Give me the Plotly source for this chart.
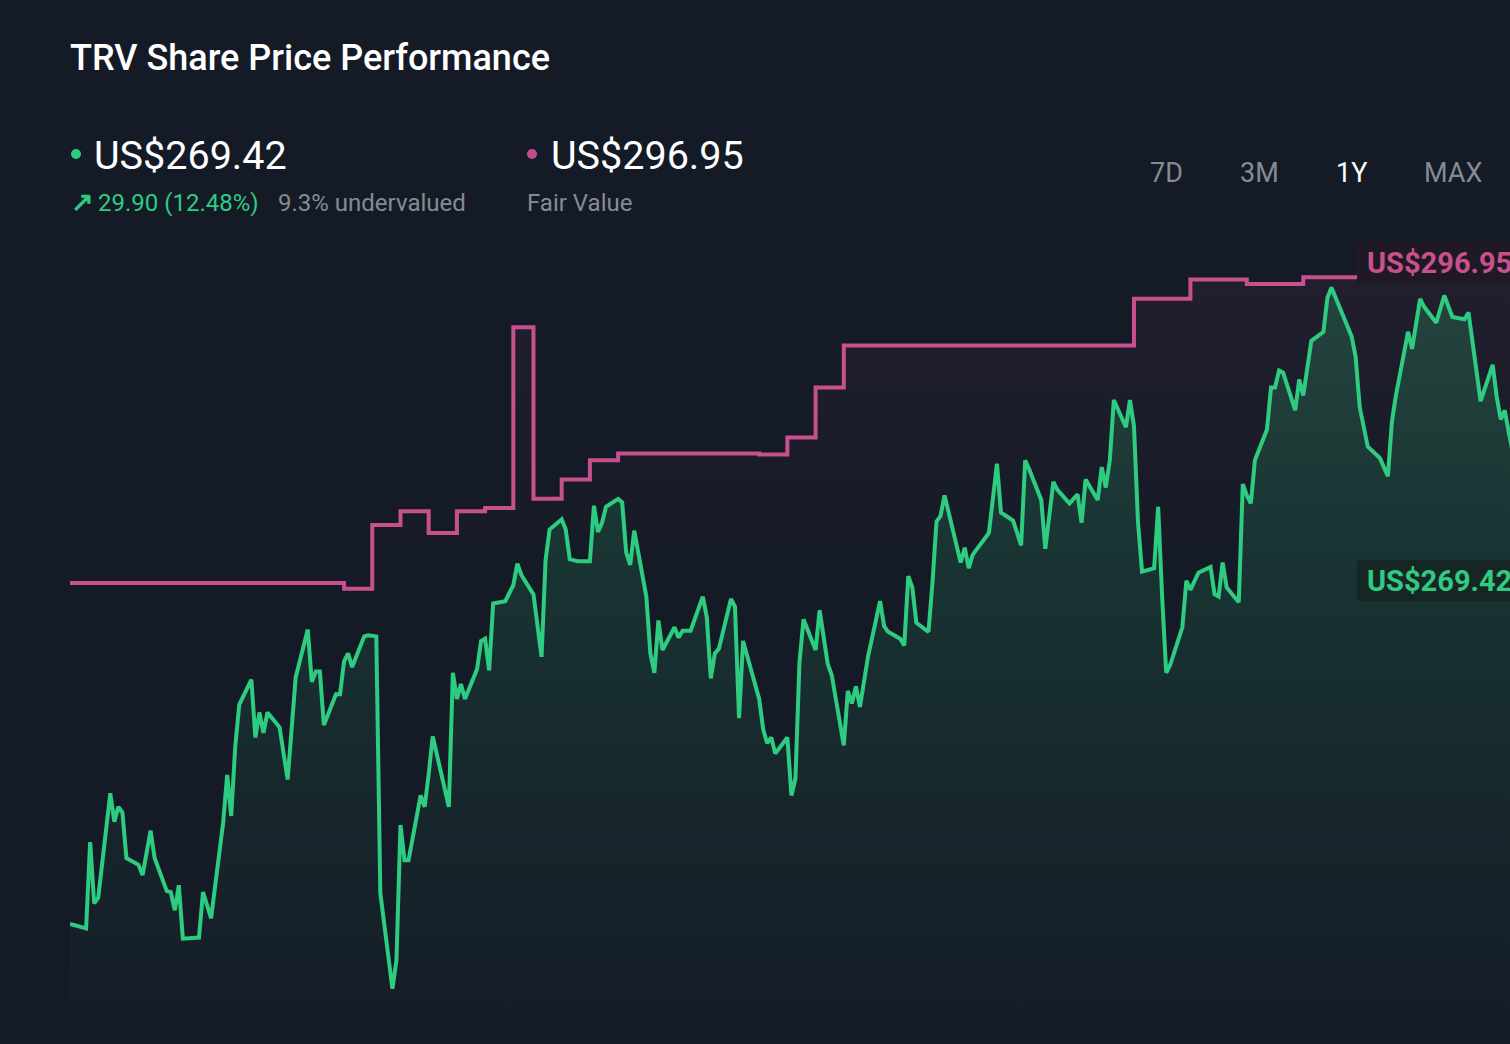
import plotly.graph_objects as go
import pandas as pd

# TRV price history, 1Y view (calendar day offset from the first point, price in US$)
price_days = [
    0, 4, 5, 6, 7, 10, 11, 12, 13, 14, 17, 18, 20, 21, 24, 25, 26, 27, 28, 32,
    33, 35, 38, 39, 40, 41, 42, 45, 46, 47, 48, 49, 52, 54, 56, 59, 60, 61, 62, 63,
    66, 67, 68, 69, 70, 73, 74, 76, 77, 80, 81, 82, 83, 84, 87, 88, 89, 90, 94, 95,
    96, 97, 98, 101, 102, 103, 104, 105, 108, 110, 111, 112, 115, 117, 118, 119, 122, 123, 124, 126,
    129, 130, 131, 132, 133, 136, 137, 138, 139, 140, 143, 144, 145, 146, 147, 150, 151, 152, 154, 157,
    158, 159, 160, 161, 164, 165, 166, 167, 171, 172, 173, 174, 175, 178, 179, 180, 181, 182, 185, 186,
    188, 189, 192, 193, 194, 195, 196, 198, 201, 202, 203, 206, 207, 208, 209, 210, 213, 214, 215, 216,
    217, 221, 222, 223, 224, 228, 230, 231, 234, 236, 237, 238, 241, 242, 244, 245, 248, 250, 251, 252,
    255, 256, 257, 258, 259, 262, 263, 264, 265, 266, 269, 270, 271, 272, 273, 276, 277, 278, 280, 283,
    284, 285, 286, 287, 290, 291, 292, 293, 294, 297, 298, 299, 300, 301, 304, 305, 306, 307, 308, 311,
    312, 313, 318, 319, 320, 322, 325, 327, 328, 329, 332, 333, 335, 336, 339, 341, 343, 346, 347, 350,
    353, 354, 355, 356, 357, 365,
]
share_price = [
    239.6, 239.2, 246.8, 241.4, 241.9, 251.1, 248.6, 249.9, 249.4, 245.4, 244.8, 243.9, 247.8, 245.4, 242.5, 242.4, 240.8, 243.0, 238.3, 238.4,
    242.4, 240.1, 248.5, 252.7, 249.1, 255.2, 258.9, 261.1, 256.0, 258.2, 256.4, 258.2, 256.9, 252.3, 261.3, 265.5, 260.9, 261.8, 261.8, 257.1,
    259.8, 259.8, 262.7, 263.4, 262.2, 264.9, 265.0, 264.9, 242.3, 233.9, 236.4, 248.3, 245.2, 245.2, 250.9, 249.9, 252.8, 256.1, 249.9, 261.7,
    259.4, 260.7, 259.4, 262.0, 264.5, 264.7, 261.9, 267.8, 268.0, 269.4, 271.3, 270.3, 268.6, 263.1, 271.6, 274.3, 275.2, 274.3, 271.7, 271.5,
    271.5, 276.4, 274.1, 274.9, 276.3, 277.0, 276.7, 272.3, 271.2, 274.2, 268.4, 263.4, 261.7, 266.3, 263.7, 265.7, 264.8, 265.4, 265.4, 268.4,
    266.6, 261.2, 263.4, 263.8, 268.2, 267.5, 257.7, 264.5, 259.4, 256.7, 255.5, 256.0, 254.6, 256.0, 250.9, 252.4, 262.6, 266.4, 263.7, 267.2,
    262.5, 261.5, 255.3, 260.1, 259.0, 260.5, 258.7, 263.1, 268.0, 265.8, 265.3, 264.7, 264.1, 270.2, 269.2, 266.1, 265.3, 269.6, 275.0, 275.5,
    277.3, 271.4, 272.7, 270.9, 272.1, 274.0, 280.1, 275.8, 275.1, 272.9, 280.4, 279.6, 276.9, 272.6, 278.5, 277.8, 276.6, 277.4, 274.9, 278.7,
    276.9, 279.8, 278.0, 280.4, 285.7, 283.3, 285.7, 283.4, 274.9, 270.6, 270.9, 276.3, 268.3, 261.7, 262.4, 265.7, 269.8, 269.0, 270.5, 271.0,
    268.6, 268.4, 271.4, 269.2, 267.9, 278.3, 277.3, 276.6, 280.4, 283.1, 286.8, 286.8, 288.3, 288.1, 284.8, 287.5, 286.1, 288.7, 290.9, 291.7,
    294.7, 295.6, 291.3, 289.5, 285.1, 281.6, 280.6, 279.0, 283.8, 286.1, 291.7, 290.2, 294.6, 293.9, 292.5, 294.9, 293.0, 292.8, 293.4, 285.6,
    288.8, 286.0, 284.0, 284.8, 282.8, 269.42,
]

# fair value estimate, changes weekly
fair_days = [0, 68, 75, 82, 89, 96, 103, 110, 115, 122, 129, 136, 171, 178, 185, 192, 264, 278, 292, 306, 320, 365]
fair_value = [269.6, 269.1, 274.7, 275.9, 274.0, 275.9, 276.2, 292.1, 277.0, 278.7, 280.4, 281.0,
              280.9, 282.4, 286.8, 290.5, 294.6, 296.3, 295.9, 296.5, 296.95, 296.95]

periods = ["7D", "3M", "1Y", "MAX"]
selected_period = "1Y"

start = pd.Timestamp("2024-06-03")
price_dates = start + pd.to_timedelta(price_days, unit="D")
fair_dates = start + pd.to_timedelta(fair_days, unit="D")

W, H = 1510, 1044
BG = "#151b26"
GREEN = "#2ecc80"
PINK = "#c8508f"
GREY = "#858b93"
FONT = "Roboto"

fig = go.Figure()

# fair value step line, faint tint under it near the top
fig.add_trace(go.Scatter(
    x=fair_dates, y=fair_value,
    mode="lines", line=dict(color=PINK, width=4, shape="hv"),
    fill="tozeroy",
    fillgradient=dict(type="vertical", start=229, stop=300,
                      colorscale=[[0, "rgba(200,80,143,0)"], [0.6, "rgba(200,80,143,0)"],
                                  [1, "rgba(200,80,143,0.08)"]]),
    hoverinfo="skip",
))

# share price with green gradient area
fig.add_trace(go.Scatter(
    x=price_dates, y=share_price,
    mode="lines", line=dict(color=GREEN, width=4),
    fill="tozeroy",
    fillgradient=dict(type="vertical", start=229, stop=300,
                      colorscale=[[0, "rgba(46,204,128,0)"], [1, "rgba(46,204,128,0.23)"]]),
    hoverinfo="skip",
))


def px(x):
    return x / W


def py(y):
    return 1 - y / H


def label(text, x, y, size, color, weight=400, xanchor="left"):
    return dict(text=text, x=px(x), y=py(y), xref="paper", yref="paper",
                xanchor=xanchor, yanchor="middle", showarrow=False,
                font=dict(family=FONT, size=size, color=color, weight=weight))


annotations = [
    label("TRV Share Price Performance", 68, 58, 36, "#ffffff", 500),
    label(f"US${share_price[-1]:.2f}", 92, 155, 39.5, "#ffffff"),
    label("↗", 69, 202, 27, GREEN, 700),
    label("29.90 (12.48%)", 96, 203, 24, GREEN),
    label("9.3% undervalued", 276, 203, 24, GREY),
    label(f"US${fair_value[-1]:.2f}", 549, 155, 39.5, "#ffffff"),
    label("Fair Value", 525, 203, 24, GREY),
    # end-of-line value tags, running off the right edge as in the app
    label(f"US${fair_value[-1]:.2f}", 1365, 263, 29, PINK, 700),
    label(f"US${share_price[-1]:.2f}", 1365, 581, 29, GREEN, 700),
]
for name, cx in zip(periods, [1166, 1259, 1351, 1453]):
    col = "#ffffff" if name == selected_period else GREY
    annotations.append(label(name, cx, 173, 27, col, xanchor="center"))

shapes = [
    dict(type="circle", xref="paper", yref="paper", line_width=0, fillcolor=GREEN,
         x0=px(71), x1=px(81), y0=py(149), y1=py(159)),
    dict(type="circle", xref="paper", yref="paper", line_width=0, fillcolor="#c04c8c",
         x0=px(527), x1=px(537), y0=py(149), y1=py(159)),
    dict(type="rect", xref="paper", yref="paper", line_width=0, fillcolor="#1e1923",
         x0=px(1357), x1=1.05, y0=py(283), y1=py(242), layer="above"),
    dict(type="rect", xref="paper", yref="paper", line_width=0, fillcolor="#162624",
         x0=px(1357), x1=1.05, y0=py(601), y1=py(560), layer="above"),
]

fig.update_layout(
    width=W, height=H,
    margin=dict(l=0, r=0, t=0, b=0),
    paper_bgcolor=BG, plot_bgcolor=BG,
    showlegend=False,
    xaxis=dict(domain=[70 / W, 1], range=[start, start + pd.Timedelta(days=357.3)],
               visible=False, fixedrange=True),
    yaxis=dict(domain=[0, 1 - 240 / H], range=[229.03, 299.78],
               visible=False, fixedrange=True),
    annotations=annotations,
    shapes=shapes,
    font=dict(family=FONT),
)

fig.write_html(
    "out.html",
    config={"displayModeBar": False},
    post_script="document.body.style.margin='0';document.body.style.background='" + BG + "';",
)
